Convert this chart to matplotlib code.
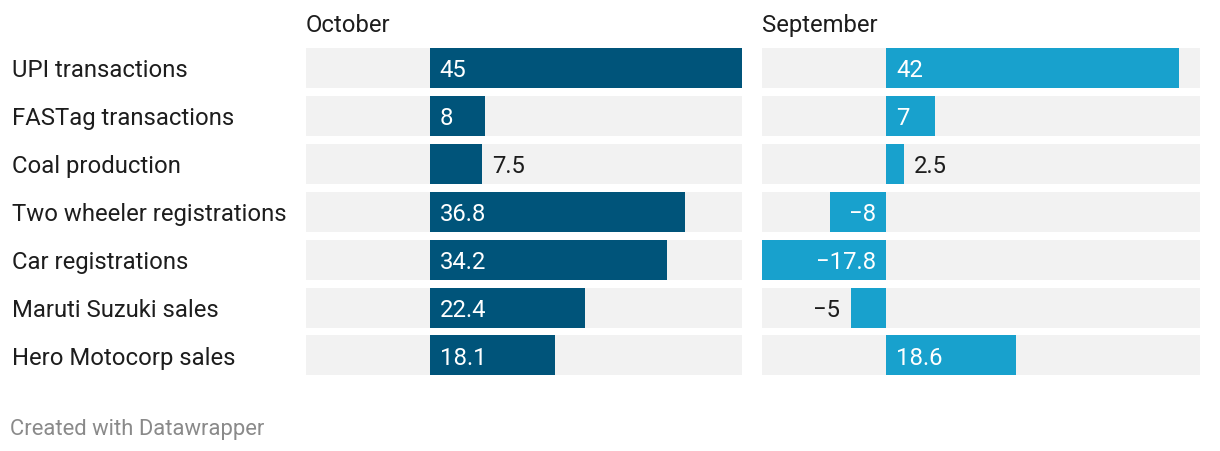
import matplotlib
matplotlib.use("Agg")
import matplotlib.pyplot as plt
import matplotlib.transforms as mtransforms

categories = ["UPI transactions", "FASTag transactions", "Coal production",
              "Two wheeler registrations", "Car registrations",
              "Maruti Suzuki sales", "Hero Motocorp sales"]
october = [45, 8, 7.5, 36.8, 34.2, 22.4, 18.1]
september = [42, 7, 2.5, -8, -17.8, -5, 18.6]
panel_titles = ["October", "September"]
labels_oct = ["45", "8", "7.5", "36.8", "34.2", "22.4", "18.1"]
labels_sep = ["42", "7", "2.5", "\u22128", "\u221217.8", "\u22125", "18.6"]

W, H = 1220, 452
DPI = 100
plt.rcParams['font.family'] = ['Roboto', 'DejaVu Sans']

fig = plt.figure(figsize=(W / DPI, H / DPI), dpi=DPI)
fig.patch.set_facecolor("white")

xmin = min(min(october), min(september))
xmax = max(max(october), max(september))

n = len(categories)
top_px, bottom_px = 44.5, 380.5
panels = [
    (306, 742, october, labels_oct, "#00547a", panel_titles[0]),
    (762, 1200, september, labels_sep, "#18a1cd", panel_titles[1]),
]

FS = 17.2
TEXT = "#1d1d1d"
renderer = fig.canvas.get_renderer()
axes = []
for (x0, x1, vals, labs, color, title) in panels:
    ax = fig.add_axes([x0 / W, 1 - bottom_px / H, (x1 - x0) / W, (bottom_px - top_px) / H])
    ax.set_xlim(xmin, xmax)
    ax.set_ylim(n - 0.5, -0.5)
    ax.axis("off")
    ys = list(range(n))
    bh = 40 / 48
    ax.barh(ys, [xmax - xmin] * n, left=xmin, height=bh, color="#f2f2f2", zorder=1)
    ax.barh(ys, vals, height=bh, color=color, zorder=2)
    px_per_unit = (x1 - x0) / (xmax - xmin)
    for y, v, lab in zip(ys, vals, labs):
        t = ax.text(0, 0, lab, fontsize=FS)
        tw = t.get_window_extent(renderer).width
        t.remove()
        bar_px = abs(v) * px_per_unit
        inside = tw + 22 <= bar_px
        if v >= 0:
            if inside:
                xx, dx, ha, c = 0, 10, "left", "white"
            else:
                xx, dx, ha, c = v, 10, "left", TEXT
        else:
            if inside:
                xx, dx, ha, c = 0, -10, "right", "white"
            else:
                xx, dx, ha, c = v, -11, "right", TEXT
        tr = mtransforms.offset_copy(ax.transData, fig=fig, x=dx, y=-8.5, units="dots")
        ax.text(xx, y, lab, transform=tr, ha=ha, va="baseline", fontsize=FS, color=c, zorder=3)
    fig.text(x0 / W, 1 - 32 / H, title, ha="left", va="baseline", fontsize=FS, color=TEXT)
    axes.append(ax)

axL = axes[0]
blend = mtransforms.blended_transform_factory(fig.transFigure, axL.transData)
for y, cat in enumerate(categories):
    tr = mtransforms.offset_copy(blend, fig=fig, x=0, y=-8.5, units="dots")
    fig.text(12 / W, y, cat, transform=tr, ha="left", va="baseline", fontsize=FS, color=TEXT)

fig.text(10 / W, 1 - 435.5 / H, "Created with Datawrapper", ha="left", va="baseline",
         fontsize=15.85, color="#8a8a8a")

fig.savefig("out.png", dpi=DPI, facecolor="white")
